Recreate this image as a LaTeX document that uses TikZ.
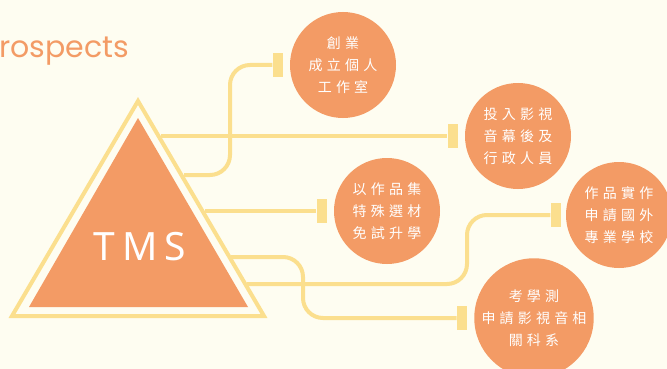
\documentclass[tikz,border=0pt]{standalone}
\usepackage{fontspec}
\usetikzlibrary{positioning}
\newfontfamily\cjk[LetterSpace=30]{Noto Sans CJK TC}
\newfontfamily\tmsfont[LetterSpace=18]{Noto Sans}
\newfontfamily\titlefont{Poppins}
\definecolor{bgcream}{HTML}{FEFDF1}
\definecolor{tmsorange}{HTML}{F39B65}
\definecolor{linkyellow}{HTML}{FBDF8E}

\begin{document}
\begin{tikzpicture}[x=1pt, y=-1pt,
    link/.style={draw=linkyellow, line width=4pt, rounded corners=20pt},
    goal/.style={circle, fill=tmsorange, minimum size=106pt, inner sep=0pt,
                 text=white, align=center, font=\cjk\fontsize{14}{22}\selectfont},
    capbar/.style={rectangle, fill=linkyellow, minimum width=10pt,
                   minimum height=24pt, inner sep=0pt}]
  \useasboundingbox (0,0) rectangle (667,369);
  \fill[bgcream] (0,0) rectangle (667,369);
  \path node (title) at (-4,58) [anchor=base west, text=tmsorange,
                                 font=\titlefont\fontsize{30}{36}\selectfont] {rospects}
        %
        node (c1) at (343,65)  [goal] {創業\\成立個人\\工作室}
        node (c2) at (518,136) [goal] {投入影視\\音幕後及\\行政人員}
        node (c3) at (387,211) [goal] {以作品集\\特殊選材\\免試升學}
        node (c4) at (619,215) [goal] {作品實作\\申請國外\\專業學校}
        node (c5) at (534,318) [goal] {考學測\\申請影視音相\\關科系}
        %
        node (k1) [capbar, left=7pt of c1] {}
        node (k2) [capbar, left=7pt of c2] {}
        node (k3) [capbar, left=7pt of c3] {}
        node (k4) [capbar, left=5pt of c4] {}
        node (k5) [capbar, left=7pt of c5] {};
  % points on the right side of the triangle
  \coordinate (t1) at (184,175);
  \coordinate (t2) at (161,136);
  \coordinate (t3) at (205,211);
  \coordinate (t4) at (247,284);
  \coordinate (t5) at (231,257);
  \draw[link] (t1) -- ++(46,0) |- (k1.west);
  \draw[link] (t2) -- (k2.west);
  \draw[link] (t3) -- (k3.west);
  \draw[link] (t4) -- ++(220,0) |- (k4.west);
  \draw[link] (t5) -- ++(72,0) |- (k5.west);
  % triangle
  \draw[linkyellow, line width=4pt] (138,101) -- (264,316) -- (12,316) -- cycle;
  \fill[tmsorange] (138,118) -- (248,307) -- (29,307) -- cycle;
  \path node (tms) at (140,247) [text=white, font=\tmsfont\fontsize{39}{44}\selectfont] {TMS};
\end{tikzpicture}
\end{document}
